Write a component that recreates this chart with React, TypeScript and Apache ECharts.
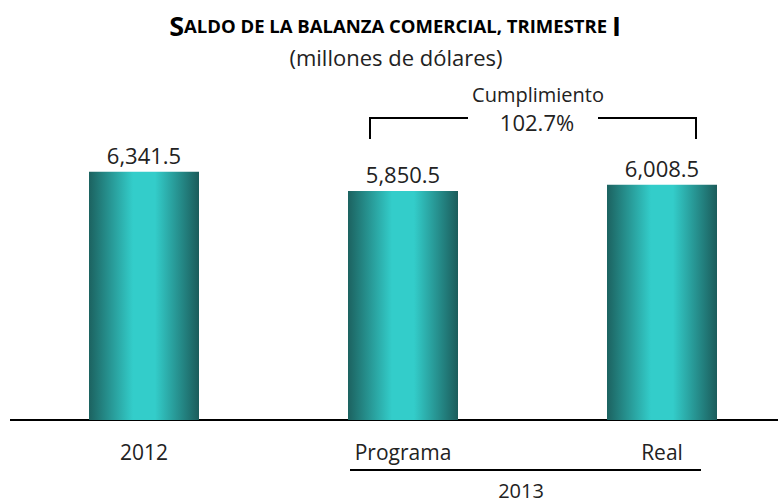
import React, { useEffect, useRef } from "react";
import * as echarts from "echarts";

const categories = ["2012", "Programa", "Real"];
const values = [6341.5, 5850.5, 6008.5];
const groupLabel = "2013";
const complianceTitle = "Cumplimiento";
const complianceValue = "102.7%";
const titleText = "Saldo de la balanza comercial, trimestre I";
const subtitleText = "(millones de dólares)";

const FONT = "'Open Sans', 'Noto Sans', sans-serif";

export default function App() {
  const ref = useRef<HTMLDivElement>(null);
  useEffect(() => {
    document.body.style.margin = "0";
    if (!ref.current) return;
    const chart = echarts.init(ref.current, null, { renderer: "svg" });
    const gradient = new echarts.graphic.LinearGradient(0, 0, 1, 0, [
      { offset: 0, color: "#1c6260" },
      { offset: 0.4, color: "#33cdca" },
      { offset: 0.6, color: "#33cdca" },
      { offset: 1, color: "#1b5c5b" },
    ]);
    // fake small caps title
    const upper = titleText.toUpperCase();
    const first = upper.charAt(0);
    const lastI = upper.lastIndexOf("I");
    const middle = upper.slice(1, lastI);
    const last = upper.slice(lastI);
    chart.setOption({
      animation: false,
      grid: { left: 144, width: 518, top: 146, height: 274 },
      xAxis: {
        type: "category",
        data: categories,
        boundaryGap: false,
        axisLine: { show: false },
        axisTick: { show: false },
        axisLabel: {
          color: "#222",
          fontFamily: FONT,
          fontSize: 21,
          margin: 21,
        },
      },
      yAxis: {
        type: "value",
        min: 0,
        max: 7000,
        show: false,
        splitLine: { show: false },
      },
      series: [
        {
          type: "bar",
          data: values,
          barWidth: 110,
          clip: false,
          itemStyle: { color: gradient },
          label: {
            show: true,
            position: "top",
            distance: 6,
            color: "#222",
            fontFamily: FONT,
            fontSize: 22,
            formatter: (p: any) =>
              p.value.toLocaleString("en-US", {
                minimumFractionDigits: 1,
                maximumFractionDigits: 1,
              }),
          },
        },
      ],
      graphic: [
        {
          type: "text",
          x: 395,
          y: 25,
          style: {
            text: `{a|${first}}{b|${middle}}{a|${last}}`,
            align: "center",
            verticalAlign: "middle",
            rich: {
              a: { fontFamily: FONT, fontWeight: "bold", fontSize: 27, fill: "#000" },
              b: { fontFamily: FONT, fontWeight: "bold", fontSize: 18.5, fill: "#000" },
            },
          },
        },
        {
          type: "text",
          x: 396,
          y: 57,
          style: {
            text: subtitleText,
            align: "center",
            verticalAlign: "middle",
            fontFamily: FONT,
            fontSize: 22,
            fill: "#222",
          },
        },
        {
          type: "text",
          x: 538,
          y: 94,
          style: {
            text: complianceTitle,
            align: "center",
            verticalAlign: "middle",
            fontFamily: FONT,
            fontSize: 20,
            fill: "#222",
          },
        },
        {
          type: "text",
          x: 537,
          y: 122,
          style: {
            text: complianceValue,
            align: "center",
            verticalAlign: "middle",
            fontFamily: FONT,
            fontSize: 22,
            fill: "#222",
          },
        },
        {
          type: "polyline",
          shape: { points: [[370, 139], [370, 118], [468, 118]] },
          style: { stroke: "#000", lineWidth: 2, fill: "none" },
        },
        {
          type: "polyline",
          shape: { points: [[598, 118], [696, 118], [696, 139]] },
          style: { stroke: "#000", lineWidth: 2, fill: "none" },
        },
        {
          type: "line",
          shape: { x1: 10, y1: 420, x2: 778, y2: 420 },
          style: { stroke: "#000", lineWidth: 2 },
        },
        {
          type: "line",
          shape: { x1: 350, y1: 470, x2: 701, y2: 470 },
          style: { stroke: "#000", lineWidth: 2 },
        },
        {
          type: "text",
          x: 521,
          y: 490,
          style: {
            text: groupLabel,
            align: "center",
            verticalAlign: "middle",
            fontFamily: FONT,
            fontSize: 20,
            fill: "#222",
          },
        },
      ],
    });
    return () => chart.dispose();
  }, []);
  return <div ref={ref} style={{ width: 778, height: 503 }} />;
}
